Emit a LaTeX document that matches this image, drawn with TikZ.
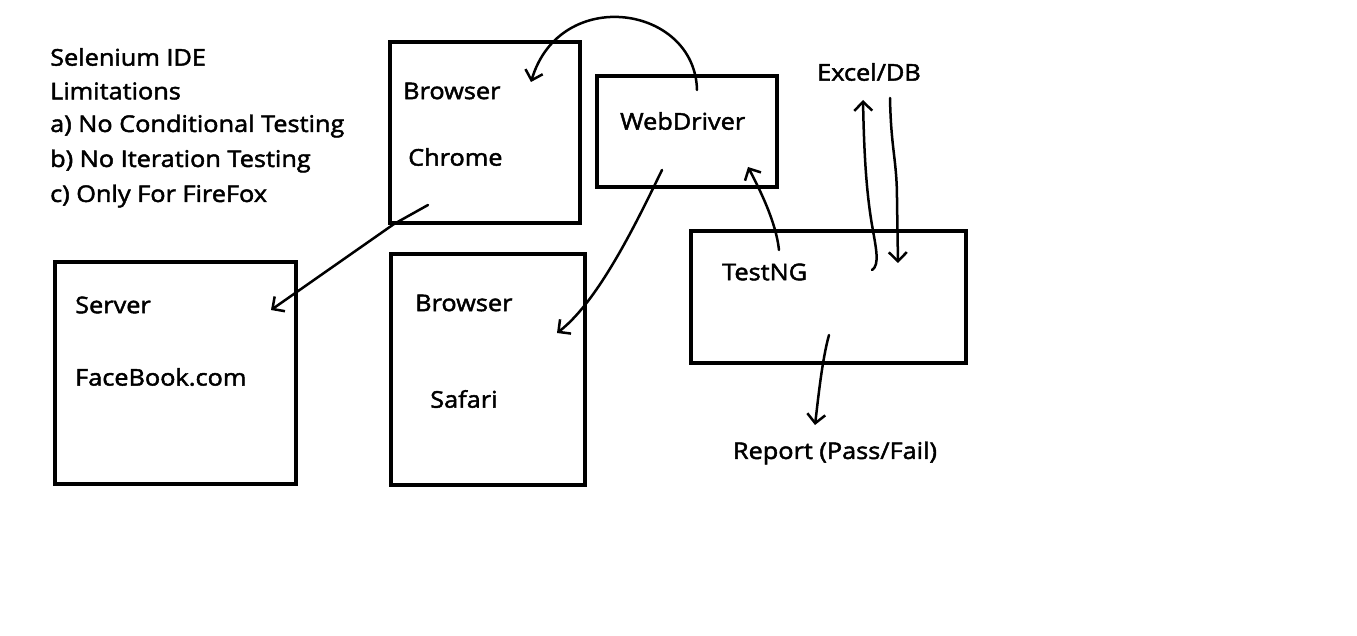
\documentclass[tikz,border=0pt]{standalone}
\usepackage{fontspec}
\setmainfont{Open Sans}[FakeStretch=1.1,FakeBold=2]
\usetikzlibrary{arrows.meta}
\begin{document}
\begin{tikzpicture}[x=1pt,y=-1pt,
  box/.style={draw,line width=4pt,inner sep=0pt},
  lbl/.style={font=\fontsize{23}{27}\selectfont,inner sep=0pt},
  arr/.style={line width=2.5pt,line cap=round,line join=round,
    -{Straight Barb[length=9pt,width=18pt,line width=2.5pt]}}]
\useasboundingbox[fill=white] (0,0) rectangle (1357,636);
% boxes
\node[box,minimum width=190pt,minimum height=181pt] (chrome) at (485,132.5) {};
\node[box,minimum width=180pt,minimum height=111pt] (wd) at (687,131.5) {};
\node[box,minimum width=194pt,minimum height=231pt] (safari) at (488,369.5) {};
\node[box,minimum width=241pt,minimum height=222pt] (server) at (175.5,373) {};
\node[box,minimum width=275pt,minimum height=132pt] (testng) at (828.5,297) {};
% left text
\node[lbl,anchor=west] (t1) at (50,57) {Selenium IDE};
\node[lbl,anchor=west] (t2) at (50,91) {Limitations};
\node[lbl,anchor=west] (t3) at (50,126) {a) No Conditional Testing};
\node[lbl,anchor=west] (t4) at (50,161) {b) No Iteration Testing};
\node[lbl,anchor=west] (t5) at (50,196) {c) Only For FireFox};
% labels
\node[lbl,anchor=west] (lb1) at (403,91) {Browser};
\node[lbl,anchor=west] (lch) at (408,157) {Chrome};
\node[lbl,anchor=west] (lwd) at (620,121) {WebDriver};
\node[lbl,anchor=west] (lsv) at (75,305) {Server};
\node[lbl,anchor=west] (lfb) at (75,377) {FaceBook.com};
\node[lbl,anchor=west] (lb2) at (415,303) {Browser};
\node[lbl,anchor=west] (lsf) at (430,399) {Safari};
\node[lbl,anchor=west] (ltn) at (722,272) {TestNG};
\node[lbl] (excel) at (869,72) {Excel/DB};
\node[lbl] (report) at (835,453) {Report (Pass/Fail)};
% connector end points
\coordinate (a1s) at (697,90);
\coordinate (a1e) at (531,82);
\coordinate (a2s) at (428,205);
\coordinate (a2e) at (271,310);
\coordinate (a3s) at (662,170);
\coordinate (a3e) at (557,333);
\coordinate (a4s) at (779,250);
\coordinate (a4e) at (748,167);
\coordinate (a5s) at (872,270);
\coordinate (a5e) at (863,100);
\coordinate (a6s) at (890,98);
\coordinate (a6e) at (898,263);
\coordinate (a7s) at (829,335);
\coordinate (a7e) at (815,425);
% connectors
\draw[arr] (a1s) .. controls (695,5) and (560,-15) .. (a1e);
\draw[arr] (a2s) -- (394,224) -- (a2e);
\draw[arr] (a3s) .. controls (640,215) and (600,300) .. (a3e);
\draw[arr] (a4s) .. controls (776,222) and (760,190) .. (a4e);
\draw[arr] (a5s) .. controls (880,265) and (876,248) .. (872,225) .. controls (866,190) and (864,150) .. (a5e);
\draw[arr] (a6s) .. controls (891,150) and (897,160) .. (897,200) -- (a6e);
\draw[arr] (a7s) .. controls (822,360) and (818,400) .. (a7e);
\end{tikzpicture}
\end{document}
